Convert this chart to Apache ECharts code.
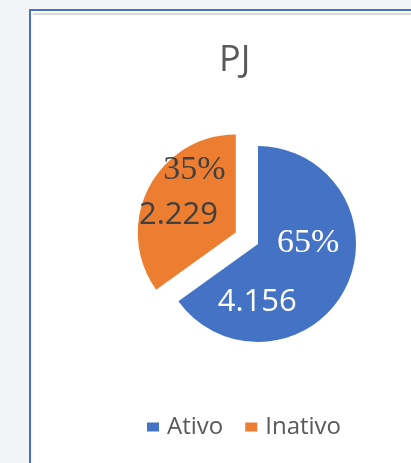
<!DOCTYPE html>
<html>
<head>
<meta charset="utf-8">
<script src="https://cdn.jsdelivr.net/npm/echarts@6/dist/echarts.min.js"></script>
<style>
  html, body { margin: 0; padding: 0; background: #f3f4f5; }
  #frame {
    position: absolute; left: 29px; top: 9px; width: 400px; height: 470px;
    background: #fff; border-left: 2px solid #4472c4; border-top: 2px solid #4472c4;
  }
  #frame .rule { position: absolute; left: 2px; right: 0; top: 2px; height: 2px; background: #d9d9d9; }
  #container { position: absolute; left: 0; top: 0; width: 411px; height: 463px; }
</style>
</head>
<body>
<div id="frame"><div class="rule"></div></div>
<div id="container"></div>
<script>
var categories = ['Ativo', 'Inativo'];
var values = [4156, 2229];
var colors = ['#4472c4', '#ed7d31'];
var labelColors = ['#ffffff', '#404040'];

// offsets of the labels from the slice anchor (percent / value)
var pctShift = [[4, -25], [5, -39]];
var valShift = [[-47, 34], [-11, 6]];

var serifFont = 'Liberation Serif';
var sansFont = 'Open Sans';

var dom = document.getElementById('container');
var myChart = echarts.init(dom);

function fmtThousands(v) {
    return String(v).replace(/\B(?=(\d{3})+(?!\d))/g, '.');
}

var pieData = categories.map(function (name, i) {
    return {
        name: name,
        value: values[i],
        selected: i === 1,
        itemStyle: { color: colors[i] },
        label: { color: labelColors[i] }
    };
});

var valueData = categories.map(function (name, i) {
    return {
        name: name,
        value: values[i],
        selected: i === 1,
        itemStyle: { color: 'rgba(0,0,0,0)' },
        label: { color: labelColors[i] }
    };
});

var pieBase = {
    type: 'pie',
    center: [258, 244],
    radius: 98,
    startAngle: 90,
    clockwise: true,
    selectedMode: 'single',
    selectedOffset: 25,
    avoidLabelOverlap: false,
    animation: false,
    labelLine: { show: false },
    emphasis: { disabled: true }
};

option = {
    title: {
        text: 'PJ',
        left: 214,
        top: 38,
        textStyle: {
            fontFamily: sansFont,
            fontSize: 36,
            fontWeight: 'normal',
            color: '#595959'
        }
    },
    legend: {
        data: categories,
        left: 142,
        top: 410,
        icon: 'rect',
        itemWidth: 12,
        itemHeight: 9,
        itemGap: 22,
        selectedMode: false,
        textStyle: {
            fontFamily: sansFont,
            fontSize: 24,
            color: '#595959',
            padding: [0, 0, 0, 3]
        }
    },
    series: [
        Object.assign({}, pieBase, {
            name: 'pct',
            data: pieData,
            label: {
                show: true,
                position: 'inside',
                fontFamily: serifFont,
                fontSize: 34,
                formatter: function (p) { return Math.round(p.percent) + '%'; }
            },
            labelLayout: function (p) {
                return { dx: pctShift[p.dataIndex][0], dy: pctShift[p.dataIndex][1] };
            }
        }),
        Object.assign({}, pieBase, {
            name: 'val',
            silent: true,
            data: valueData,
            label: {
                show: true,
                position: 'inside',
                fontFamily: sansFont,
                fontSize: 31,
                formatter: function (p) { return fmtThousands(p.value); }
            },
            labelLayout: function (p) {
                return { dx: valShift[p.dataIndex][0], dy: valShift[p.dataIndex][1] };
            }
        })
    ]
};

if (option && typeof option === "object") {
    myChart.setOption(option, true);
}
</script>
</body>
</html>
